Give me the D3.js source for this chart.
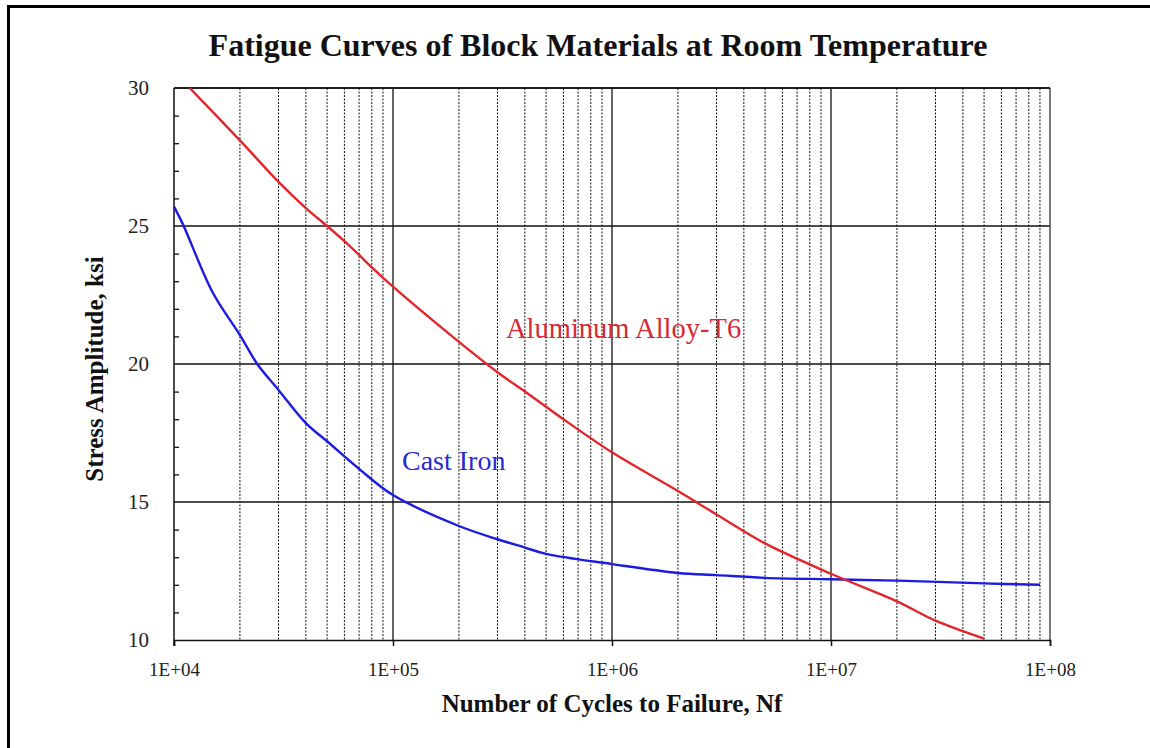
<!DOCTYPE html>
<html>
<head>
<meta charset="utf-8">
<script src="https://cdn.jsdelivr.net/npm/d3@7"></script>
<style>
  html, body { margin: 0; padding: 0; background: #fff; }
  svg { display: block; }
  text { font-family: "Liberation Serif", "Times New Roman", serif; }
</style>
</head>
<body>
<svg id="chart" width="1150" height="748"></svg>
<script>
// Fatigue (S-N) data: cycles to failure vs. stress amplitude (ksi)
const aluminumCycles = [1.18e4, 2e4, 3e4, 4e4, 5e4, 6e4, 7e4, 8e4, 1e5, 2e5, 3e5, 4e5, 5e5, 6e5, 1e6, 2e6, 3e6, 5e6, 1e7, 2e7, 3e7, 5e7];
const aluminumStress = [30, 28.1, 26.6, 25.65, 25.0, 24.45, 23.95, 23.5, 22.8, 20.8, 19.7, 19.0, 18.45, 18.0, 16.8, 15.4, 14.55, 13.5, 12.4, 11.4, 10.7, 10.05];

const castIronCycles = [1e4, 1.1e4, 1.5e4, 2e4, 2.4e4, 3e4, 4e4, 5e4, 7e4, 1e5, 2e5, 3e5, 4e5, 5e5, 1e6, 2e6, 3e6, 5e6, 1e7, 2e7, 5e7, 9e7];
const castIronStress = [25.7, 25.05, 22.6, 21.05, 20.0, 19.06, 17.86, 17.2, 16.2, 15.25, 14.13, 13.65, 13.35, 13.12, 12.75, 12.43, 12.35, 12.25, 12.2, 12.15, 12.05, 12.0];

const xDecades = [1e4, 1e5, 1e6, 1e7, 1e8];
const xTickLabels = ["1E+04", "1E+05", "1E+06", "1E+07", "1E+08"];
const yMajor = [10, 15, 20, 25, 30];
const yTickLabels = ["10", "15", "20", "25", "30"];

const titleText = "Fatigue Curves of Block Materials at Room Temperature";
const xTitle = "Number of Cycles to Failure, Nf";
const yTitle = "Stress Amplitude, ksi";
const seriesNames = ["Aluminum Alloy-T6", "Cast Iron"];

const svg = d3.select("#chart");

// outer frame
svg.append("path")
  .attr("d", "M8.5,748 V6.5 H1150")
  .attr("fill", "none").attr("stroke", "#000").attr("stroke-width", 3);

const x = d3.scaleLog().domain([1e4, 1e8]).range([174, 1050]);
const y = d3.scaleLinear().domain([10, 30]).range([640, 88]);

// minor (dotted) vertical gridlines at 2..9 of each decade
const minor = [];
for (let d = 0; d < 4; d++) {
  for (let m = 2; m <= 9; m++) minor.push(xDecades[d] * m);
}
svg.append("g").selectAll("line").data(minor).join("line")
  .attr("x1", d => x(d)).attr("x2", d => x(d))
  .attr("y1", y(30)).attr("y2", y(10))
  .attr("stroke", "#111").attr("stroke-width", 1)
  .attr("stroke-dasharray", "2,1.5");

// solid vertical gridlines at decades
svg.append("g").selectAll("line").data(xDecades.slice(1, 4)).join("line")
  .attr("x1", d => x(d)).attr("x2", d => x(d))
  .attr("y1", y(30)).attr("y2", y(10))
  .attr("stroke", "#111").attr("stroke-width", 1.3);

// horizontal gridlines
svg.append("g").selectAll("line").data(yMajor.slice(1)).join("line")
  .attr("x1", x(1e4)).attr("x2", x(1e8))
  .attr("y1", d => y(d)).attr("y2", d => y(d))
  .attr("stroke", "#111").attr("stroke-width", 1.3);

// right frame edge
svg.append("line")
  .attr("x1", x(1e8)).attr("x2", x(1e8))
  .attr("y1", y(30)).attr("y2", y(10))
  .attr("stroke", "#333").attr("stroke-width", 1.3);

// axes
const xAxis = d3.axisBottom(x).tickValues(xDecades).tickSize(6).tickFormat((d, i) => xTickLabels[i]);
const gx = svg.append("g").attr("transform", `translate(0,${y(10)})`).call(xAxis);
gx.select(".domain").attr("stroke", "#111").attr("stroke-width", 1.5);
gx.selectAll(".tick line").attr("stroke", "#111").attr("stroke-width", 1.5);
gx.selectAll(".tick text")
  .attr("font-family", "Liberation Serif, serif").attr("font-size", 19)
  .attr("fill", "#222").attr("y", 0).attr("dy", 36);

const yMinorVals = d3.range(11, 30).filter(v => v % 5 !== 0);
const yAxisMinor = d3.axisRight(y).tickValues(yMinorVals).tickSize(5).tickFormat("");
const gyMinor = svg.append("g").attr("transform", `translate(${x(1e4)},0)`).call(yAxisMinor);
gyMinor.select(".domain").remove();
gyMinor.selectAll(".tick line").attr("stroke", "#111").attr("stroke-width", 1.3);

const yAxis = d3.axisLeft(y).tickValues(yMajor).tickSize(0).tickPadding(25)
  .tickFormat((d, i) => yTickLabels[i]);
const gy = svg.append("g").attr("transform", `translate(${x(1e4)},0)`).call(yAxis);
gy.select(".domain").attr("stroke", "#111").attr("stroke-width", 1.5)
  .attr("d", `M0,${y(30)}V${y(10) + 6}`);
gy.selectAll(".tick text")
  .attr("font-family", "Liberation Serif, serif").attr("font-size", 21)
  .attr("fill", "#222");

// top edge
svg.append("line")
  .attr("x1", x(1e4)).attr("x2", x(1e8))
  .attr("y1", y(30)).attr("y2", y(30))
  .attr("stroke", "#111").attr("stroke-width", 1.5);

// curves
const line = d3.line().x(d => x(d[0])).y(d => y(d[1])).curve(d3.curveCatmullRom.alpha(0.5));
const aluminum = d3.zip(aluminumCycles, aluminumStress);
const castIron = d3.zip(castIronCycles, castIronStress);

svg.append("path").datum(castIron)
  .attr("d", line).attr("fill", "none")
  .attr("stroke", "#1c1ce0").attr("stroke-width", 2.4).attr("stroke-linejoin", "round");
svg.append("path").datum(aluminum)
  .attr("d", line).attr("fill", "none")
  .attr("stroke", "#e3262c").attr("stroke-width", 2.4).attr("stroke-linejoin", "round");

// series labels
svg.append("text").attr("x", 506).attr("y", 338)
  .attr("font-size", 28.5).attr("fill", "#d42a35").text(seriesNames[0]);
svg.append("text").attr("x", 402).attr("y", 470)
  .attr("font-size", 28).attr("fill", "#2a2ad0").text(seriesNames[1]);

// titles
svg.append("text").attr("x", 598).attr("y", 56)
  .attr("text-anchor", "middle").attr("font-weight", "bold")
  .attr("font-size", 32).attr("fill", "#111").text(titleText);
svg.append("text").attr("x", 612).attr("y", 712)
  .attr("text-anchor", "middle").attr("font-weight", "bold")
  .attr("font-size", 25).attr("fill", "#111").text(xTitle);
svg.append("text").attr("transform", "translate(103,369) rotate(-90)")
  .attr("text-anchor", "middle").attr("font-weight", "bold")
  .attr("font-size", 25).attr("fill", "#111").text(yTitle);
</script>
</body>
</html>
